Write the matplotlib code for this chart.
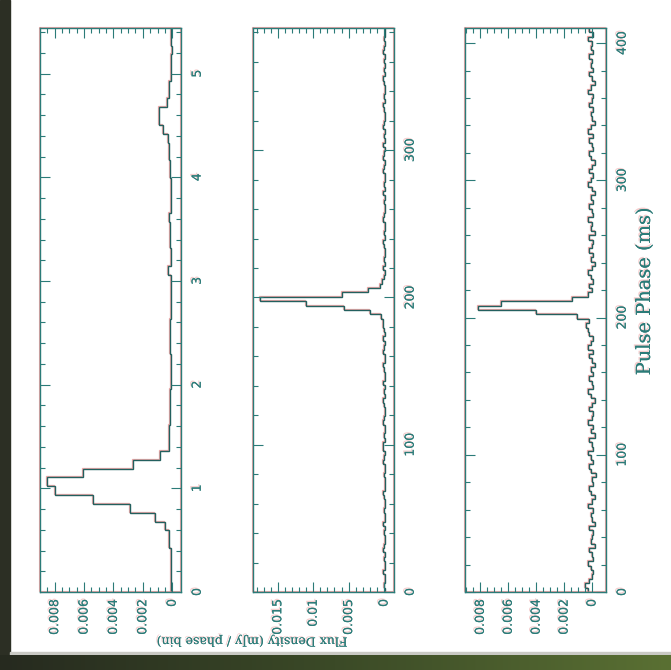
import numpy as np
import matplotlib
matplotlib.use("Agg")
import matplotlib.pyplot as plt
from matplotlib.patches import Rectangle
from matplotlib.transforms import offset_copy
from matplotlib.colors import LinearSegmentedColormap
import matplotlib.patheffects as pe

# profiles, flux in units of 1e-4 mJy / phase bin
p1 = [1, 1, 1, 1, 1,
      2, 2.5, 4.7, 12, 29, 54, 80, 85, 61, 27, 8, 2,
      2, 2, 1.5, 1.5, 1.5, 1.5, 1, 1, 1, 1, 1.5, 1.5, 1.5, 1.5,
      1, 1, 1, 1, 1, 3, 1, 1, 1.5, 1.5, 1.5, 2.5, 1, 1, 1, 1,
      1.5, 1.5, 2.5, 2.5, 3, 6, 8.8, 8.8, 3.2, 2, 2, 1, 1, 1, 0, 1, 1]

p2 = [-1, 0, -2, -1, 1, -1, -2, 0, -1, 1,
      0, -2, -1, 0, -1, 1, -1, -2, 0, -1,
      -1, 0, 1, -1, -2, -1, 0, -1, -2, 1,
      0, -1, 1, 2, -1, 0, -2, -1, 1, 0,
      -1, -2, 0, 1, -1, 0, -1, 2, -1, -2,
      0, 1, -1, -2, 2, 0, -1, 1, -2, 0,
      1, 2, 4, 20, 57, 110, 175, 60, 22, 6,
      3, 0, -1, 1, -2, 0, -1, -2, 0, 1,
      -1, 0, -2, -1, 1, 0, -1, -2, 0, -1,
      1, -1, 0, -2, -1, 1, 0, -1, 2, 0,
      -1, 1, -2, 0, -1, 1, 0, -2, -1, 0,
      1, -1, 0, -1, -2, 0, 1, -1, 0, -1,
      0, -1, 1, 0, -1, 0, -2, -1]

p3 = [3, 5, 2, 0, -1, 1, 3, -1, 0, 2,
      -2, 1, 0, -1, 2, -2, 0, 1, -1, 3,
      0, -2, 1, 2, -1, 0, -3, 1, 2, -1,
      1, 3, -1, 0, 2, -2, 1, -1, 3, 0,
      -1, 2, 0, -2, 1, 3, -1, 0, 2, -1,
      1, -2, 0, 2, -1, 3, 1, -1, 2, 3,
      4, 2, 11, 40, 82, 65, 14, 3, 0, 2,
      -1, 1, 3, 0, -2, 1, -1, 2, 0, -1,
      2, -2, 1, 0, 3, -1, 0, 2, -1, 1,
      -2, 0, 3, 1, -1, 2, 0, -2, 1, 2,
      -1, 0, 2, -1, 3, 1, -2, 0, 1, -1,
      2, 0, -1, 3, 1, -2, 0, 2, -1, 1,
      0, 2, -1, 1, 0, 3, -1, 2]

phase_max = [5.44, 383, 411]
flux_lim = [(-0.0006, 0.0090), (-0.0014, 0.0185), (-0.0010, 0.0091)]
flux_ticks = [[0, 0.002, 0.004, 0.006, 0.008], [0, 0.005, 0.01, 0.015], [0, 0.002, 0.004, 0.006, 0.008]]
flux_labels = [["0", "0.002", "0.004", "0.006", "0.008"], ["0", "0.005", "0.01", "0.015"],
               ["0", "0.002", "0.004", "0.006", "0.008"]]
flux_minor = [0.0005, 0.001, 0.0005]
phase_ticks = [[0, 1, 2, 3, 4, 5], [0, 100, 200, 300], [0, 100, 200, 300, 400]]
phase_minor = [0.2, 20, 20]

teal = "#2b7b78"
line_c = "#23605e"
red = "#e07070"

fig = plt.figure(figsize=(6.71, 6.70), dpi=100)
fig.patch.set_facecolor("white")

# dark frame of the slide
fig.patches.append(Rectangle((0, 0), 10 / 671, 1, transform=fig.transFigure, color="#2c2f24", zorder=-5))
fig.patches.append(Rectangle((10 / 671, 15 / 670), 1, 3 / 670, transform=fig.transFigure, color="#c9c9c4", zorder=-5))
band = fig.add_axes([0, 0, 1, 15 / 670])
band.imshow(np.linspace(0, 1, 256)[None, :], aspect="auto",
            cmap=LinearSegmentedColormap.from_list("bg", ["#262a1f", "#3b4a27", "#5a7033"]))
band.set_axis_off()

lefts = [40 / 671, 253 / 671, 465 / 671]
bottom = 1 - 592 / 670
height = 564 / 670
width = 141 / 671

shadow = [pe.withSimplePatchShadow(offset=(-1, 1), shadow_rgbFace=red, alpha=0.35), pe.Normal()]

for i, prof in enumerate([p1, p2, p3]):
    ax = fig.add_axes([lefts[i], bottom, width, height])
    vals = np.array(prof) * 1e-4
    edges = np.linspace(0, phase_max[i], len(vals) + 1)
    off = offset_copy(ax.transData, fig=fig, x=-1, y=1, units="dots")
    ax.stairs(vals, edges, orientation="horizontal", baseline=None, color=red, lw=0.9,
              alpha=0.6, transform=off)
    ax.stairs(vals, edges, orientation="horizontal", baseline=None, color=line_c, lw=1.0)

    ax.set_ylim(0, phase_max[i])
    ax.set_xlim(flux_lim[i][1], flux_lim[i][0])
    ax.set_xticks(flux_ticks[i])
    ax.set_xticklabels(flux_labels[i])
    ax.set_xticks(np.arange(0, flux_lim[i][1], flux_minor[i]), minor=True)
    ax.set_yticks(phase_ticks[i])
    ax.set_yticks(np.arange(0, phase_max[i], phase_minor[i]), minor=True)

    ax.tick_params(which="both", direction="in", top=True, bottom=True, left=True, right=True,
                   color=teal, width=0.8)
    ax.tick_params(which="major", length=7)
    ax.tick_params(which="minor", length=3.5)
    ax.tick_params(axis="y", labelleft=False, labelright=True, labelrotation=90, pad=7,
                   labelsize=9, labelcolor=teal)
    ax.tick_params(axis="x", labelrotation=90, pad=5, labelsize=9, labelcolor=teal)
    for lab in ax.get_xticklabels():
        lab.set_path_effects(shadow)
        lab.set_va("top")
    for lab in ax.get_yticklabels():
        lab.set_path_effects(shadow)
        lab.set_va("center")
    for sp in ax.spines.values():
        sp.set_color(teal)
        sp.set_linewidth(1.0)
    ax.add_patch(Rectangle((0, 0), 1, 1, transform=offset_copy(ax.transAxes, fig=fig, x=-1, y=1, units="dots"),
                           fill=False, ec=red, lw=0.8, alpha=0.6, clip_on=False))

fig.text(645 / 671, 1 - 291 / 670, "Pulse Phase (ms)", rotation=90, ha="center", va="center",
         fontsize=14, family="DejaVu Serif", color=teal, path_effects=shadow)
fig.text(252 / 671, 1 - 641 / 670, "Flux Density (mJy / phase bin)", rotation=180, ha="center",
         va="center", fontsize=9, family="DejaVu Serif", color=teal, path_effects=shadow)

fig.savefig("out.png", dpi=100, facecolor=fig.get_facecolor())
